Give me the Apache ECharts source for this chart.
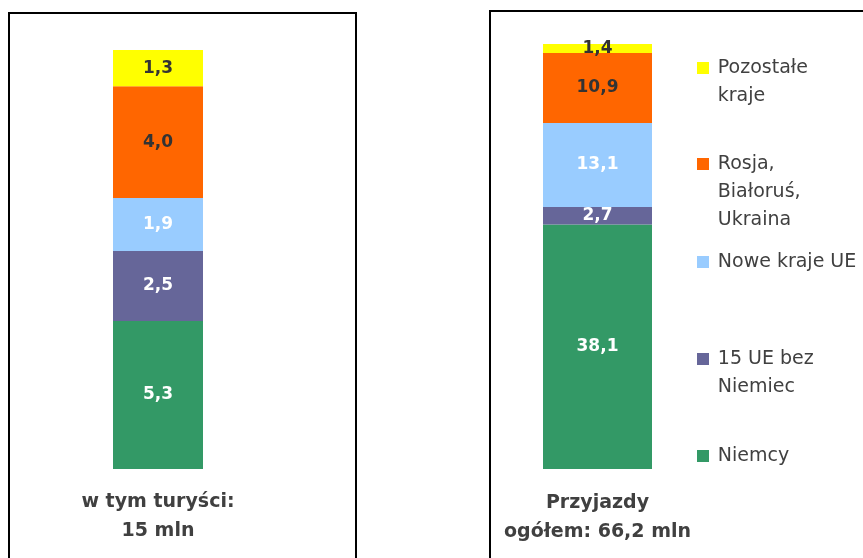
<!DOCTYPE html>
<html>
<head>
<meta charset="utf-8">
<script src="https://cdn.jsdelivr.net/npm/echarts@6/dist/echarts.min.js"></script>
<style>
html,body{margin:0;padding:0;background:#fff;}
#chart{width:863px;height:558px;}
</style>
</head>
<body>
<div id="chart"></div>
<script>
// Data
const seriesNames = ['Niemcy', '15 UE bez Niemiec', 'Nowe kraje UE', 'Rosja, Białoruś, Ukraina', 'Pozostałe kraje'];
const legendLabels = ['Niemcy', '15 UE bez\nNiemiec', 'Nowe kraje UE', 'Rosja,\nBiałoruś,\nUkraina', 'Pozostałe\nkraje'];
const categoryLeft = ['w tym turyści:\n15 mln'];
const categoryRight = ['Przyjazdy\nogółem: 66,2 mln'];
const touristValues = [5.3, 2.5, 1.9, 4.0, 1.3];
const arrivalValues = [38.1, 2.7, 13.1, 10.9, 1.4];

const colors = ['#339966', '#666699', '#99CCFF', '#FF6600', '#FFFF00'];
const labelColors = ['#ffffff', '#ffffff', '#ffffff', '#333333', '#333333'];
const FONT = 'DejaVu Sans';

const sum = a => Math.round(a.reduce((s, v) => s + v, 0) * 10) / 10;
const fmt = v => v.toFixed(1).replace('.', ',');

function makeSeries(values, axisIndex, stackName) {
  return values.map((v, i) => ({
    name: seriesNames[i],
    type: 'bar',
    stack: stackName,
    xAxisIndex: axisIndex,
    yAxisIndex: axisIndex,
    barWidth: '100%',
    itemStyle: { color: colors[i] },
    label: {
      show: true,
      position: 'inside',
      formatter: p => fmt(p.value),
      color: labelColors[i],
      fontFamily: FONT,
      fontWeight: 'bold',
      fontSize: 17
    },
    data: [v]
  }));
}

const L = 28;
const legendFirstLineCenters = [456, 359, 262, 164, 68];
const legends = seriesNames.map((name, i) => {
  const n = legendLabels[i].split('\n').length;
  return {
    data: [name],
    left: 697,
    top: legendFirstLineCenters[i] - (2 * n - 1) * L / 2,
    padding: 0,
    itemWidth: 12,
    itemHeight: 12,
    itemGap: 0,
    icon: 'rect',
    selectedMode: false,
    // leading blank lines keep the marker level with the first text line
    formatter: nm => {
      const lines = legendLabels[seriesNames.indexOf(nm)].split('\n');
      return '\n'.repeat(lines.length - 1) + lines.map(s => '\u2009' + s).join('\n');
    },
    textStyle: {
      fontFamily: FONT,
      fontSize: 19,
      color: '#404040',
      lineHeight: L
    }
  };
});

const captionLabel = {
  fontFamily: FONT,
  fontWeight: 'bold',
  fontSize: 19,
  color: '#404040',
  lineHeight: 29,
  interval: 0
};

const option = {
  animation: false,
  legend: legends,
  grid: [
    { left: 113, width: 90, top: 50, height: 419 },
    { left: 543, width: 109, top: 44, height: 425 }
  ],
  xAxis: [
    { type: 'category', gridIndex: 0, data: categoryLeft,
      axisLine: { show: false }, axisTick: { show: false },
      axisLabel: Object.assign({ margin: 19 }, captionLabel) },
    { type: 'category', gridIndex: 1, data: categoryRight,
      axisLine: { show: false }, axisTick: { show: false },
      axisLabel: Object.assign({ margin: 20 }, captionLabel) }
  ],
  yAxis: [
    { type: 'value', gridIndex: 0, min: 0, max: sum(touristValues), show: false, splitLine: { show: false } },
    { type: 'value', gridIndex: 1, min: 0, max: sum(arrivalValues), show: false, splitLine: { show: false } }
  ],
  series: makeSeries(touristValues, 0, 'tourists').concat(makeSeries(arrivalValues, 1, 'arrivals')),
  graphic: [
    { type: 'rect', shape: { x: 9, y: 13, width: 347, height: 600 },
      style: { fill: 'none', stroke: '#000', lineWidth: 2 }, silent: true },
    { type: 'rect', shape: { x: 490, y: 11, width: 420, height: 600 },
      style: { fill: 'none', stroke: '#000', lineWidth: 2 }, silent: true }
  ]
};

const chart = echarts.init(document.getElementById('chart'), null, { renderer: 'canvas' });
chart.setOption(option);
</script>
</body>
</html>
